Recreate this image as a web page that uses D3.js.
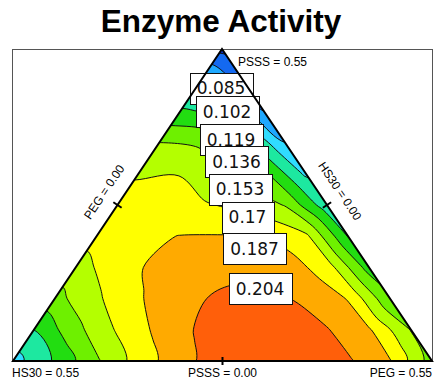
<!DOCTYPE html>
<html><head><meta charset="utf-8">
<script src="https://cdn.jsdelivr.net/npm/d3@7"></script>
<style>html,body{margin:0;padding:0;background:#fff;}svg{display:block;}</style>
</head><body>
<svg id="chart" width="442" height="385"></svg>
<script>
// ---------------- data ----------------
const chartTitle = "Enzyme Activity";
const vertexLabels = ["PSSS = 0.55", "HS30 = 0.55", "PEG = 0.55"];   // top, bottom-left, bottom-right
const edgeLabels = ["PEG = 0.00", "HS30 = 0.00", "PSSS = 0.00"];     // left edge, right edge, base
// Response read on a ternary lattice, step 0.1 in pseudo-components.
// Each row is one PSSS level (0 at base -> 1 at apex); values run from HS30 corner side towards PEG side.
const psssRow0  = [0.095, 0.121, 0.151, 0.1774, 0.198, 0.214, 0.216, 0.214, 0.206, 0.188, 0.145];
const psssRow1  = [0.119, 0.148, 0.172, 0.1915, 0.207, 0.213, 0.214, 0.205, 0.189, 0.152];
const psssRow2  = [0.147, 0.1674, 0.1853, 0.199, 0.207, 0.209, 0.201, 0.186, 0.138];
const psssRow3  = [0.163, 0.179, 0.192, 0.198, 0.200, 0.196, 0.179, 0.128];
const psssRow4  = [0.176, 0.183, 0.1875, 0.188, 0.1875, 0.174, 0.118];
const psssRow5  = [0.178, 0.177, 0.172, 0.166, 0.152, 0.108];
const psssRow6  = [0.168, 0.1695, 0.158, 0.140, 0.098];
const psssRow7  = [0.153, 0.150, 0.128, 0.085];
const psssRow8  = [0.122, 0.115, 0.068];
const psssRow9  = [0.092, 0.060];
const psssRow10 = [0.045];
const contourLevels = [0.051, 0.068, 0.085, 0.102, 0.119, 0.136, 0.153, 0.17, 0.187, 0.204];
const labelLevels = [0.085, 0.102, 0.119, 0.136, 0.153, 0.17, 0.187, 0.204];
const bandColors = ["#0a2fc0", "#1469f0", "#1ea8ff", "#30dcff", "#1de8a0", "#22dd11",
                    "#6ef000", "#b4ff00", "#ffff00", "#ffaa00", "#ff5f0a"];

// ---------------- layout ----------------
const W = 442, H = 385;
const P_L = [13, 361], P_R = [432, 361], P_T = [222, 49];
const N = 10; // lattice steps
const labelCenters = [[221, 88], [227, 111.5], [231, 139.5], [236.5, 161.5], [240, 189], [247.5, 217], [254.5, 248.5], [260, 288.5]];

const svg = d3.select("#chart");
const rows = [psssRow0, psssRow1, psssRow2, psssRow3, psssRow4, psssRow5, psssRow6, psssRow7, psssRow8, psssRow9, psssRow10];

// scales: lattice index -> pixel offsets
const pegX = d3.scaleLinear().domain([0, N]).range([0, P_R[0] - P_L[0]]);
const psssX = d3.scaleLinear().domain([0, N]).range([0, P_T[0] - P_L[0]]);
const psssY = d3.scaleLinear().domain([0, N]).range([P_L[1], P_T[1]]);
const toPx = (i, j) => [P_L[0] + pegX(i) + psssX(j), psssY(j)];

// rectangular (skewed) grid with one padding cell around, values outside triangle copied from nearest edge node
const PAD = 1, G = N + 1 + 2 * PAD + 1;
function valueAt(i, j) {
  let jj = Math.max(0, Math.min(N, j));
  let ii = Math.max(0, i);
  if (ii + jj > N) ii = N - jj;
  return rows[jj][ii];
}
const gridVals = new Array(G * G);
for (let gj = 0; gj < G; gj++) for (let gi = 0; gi < G; gi++) gridVals[gj * G + gi] = valueAt(gi - PAD, gj - PAD);

const contours = d3.contours().size([G, G]).thresholds(contourLevels)(gridVals);
const gridToPx = ([u, v]) => toPx(u - 0.5 - PAD, v - 0.5 - PAD);
const ringLine = d3.line().curve(d3.curveCatmullRomClosed.alpha(0.5));
function contourPath(c) {
  let d = "";
  c.coordinates.forEach(poly => poly.forEach(ring => {
    const pts = ring.slice(0, ring.length - 1).map(gridToPx);
    if (pts.length > 2) d += ringLine(pts);
  }));
  return d;
}

// frame
svg.append("rect").attr("x", 12.5).attr("y", 49.5).attr("width", 420).attr("height", 312)
  .attr("fill", "#fff").attr("stroke", "#555").attr("stroke-width", 1);

// title
svg.append("text").attr("x", 221).attr("y", 32).attr("text-anchor", "middle")
  .attr("font-family", "Liberation Sans, Arial, sans-serif").attr("font-weight", "bold")
  .attr("font-size", 31.5).attr("fill", "#000").text(chartTitle);

const triPts = [P_L, P_R, P_T];
svg.append("clipPath").attr("id", "tri").append("polygon").attr("points", triPts.map(p => p.join(",")).join(" "));
const plot = svg.append("g").attr("clip-path", "url(#tri)");
plot.append("polygon").attr("points", triPts.map(p => p.join(",")).join(" ")).attr("fill", bandColors[0]);
contours.forEach((c, k) => {
  plot.append("path").attr("d", contourPath(c)).attr("fill", bandColors[k + 1]).attr("fill-rule", "evenodd");
});
contours.forEach(c => {
  plot.append("path").attr("d", contourPath(c)).attr("fill", "none").attr("stroke", "#111").attr("stroke-width", 1);
});

// contour labels
const lblG = svg.append("g");
labelLevels.forEach((lv, k) => {
  const [cxp, cyp] = labelCenters[k];
  const g = lblG.append("g");
  const rect = g.append("rect");
  const t = g.append("text").attr("x", cxp).attr("y", cyp + 6).attr("text-anchor", "middle")
    .attr("font-family", "DejaVu Sans, sans-serif").attr("font-size", 17).attr("fill", "#111")
    .text(String(lv));
  const tw = t.node().getComputedTextLength();
  const bw = Math.round(tw + 14), bh = 31;
  rect.attr("x", Math.round(cxp - bw / 2) + 0.5).attr("y", Math.round(cyp - bh / 2) + 0.5)
    .attr("width", bw).attr("height", bh).attr("fill", "#fff").attr("stroke", "#111").attr("stroke-width", 1);
});

// triangle outline
svg.append("polygon").attr("points", triPts.map(p => p.join(",")).join(" "))
  .attr("fill", "none").attr("stroke", "#000").attr("stroke-width", 2).attr("stroke-linejoin", "miter");

// midpoint ticks
function tick(p, q, len) {
  const mx = (p[0] + q[0]) / 2, my = (p[1] + q[1]) / 2;
  const dx = q[0] - p[0], dy = q[1] - p[1], l = Math.hypot(dx, dy);
  const nx = -dy / l, ny = dx / l;
  svg.append("line").attr("x1", mx - nx * len).attr("y1", my - ny * len)
    .attr("x2", mx + nx * len).attr("y2", my + ny * len).attr("stroke", "#000").attr("stroke-width", 2);
}
tick(P_L, P_T, 5); tick(P_T, P_R, 5); tick(P_L, P_R, 4);

// vertex labels
const small = sel => sel.attr("font-family", "Liberation Sans, Arial, sans-serif").attr("font-size", 12).attr("fill", "#000");
svg.append("text").attr("x", 238).attr("y", 66).call(small).text(vertexLabels[0]);
svg.append("text").attr("x", 12).attr("y", 377).call(small).text(vertexLabels[1]);
svg.append("text").attr("x", 432).attr("y", 377).attr("text-anchor", "end").call(small).text(vertexLabels[2]);
svg.append("text").attr("x", (P_L[0] + P_R[0]) / 2).attr("y", 377).attr("text-anchor", "middle").call(small).text(edgeLabels[2]);

// edge labels (rotated)
const ang = Math.atan2(P_L[1] - P_T[1], P_T[0] - P_L[0]) * 180 / Math.PI;
svg.append("text").attr("transform", `translate(104,192) rotate(${-ang})`).attr("text-anchor", "middle")
  .attr("dy", "0.35em").call(small).text(edgeLabels[0]);
svg.append("text").attr("transform", `translate(340,191) rotate(${ang})`).attr("text-anchor", "middle")
  .attr("dy", "0.35em").call(small).text(edgeLabels[1]);
</script>
</body></html>
